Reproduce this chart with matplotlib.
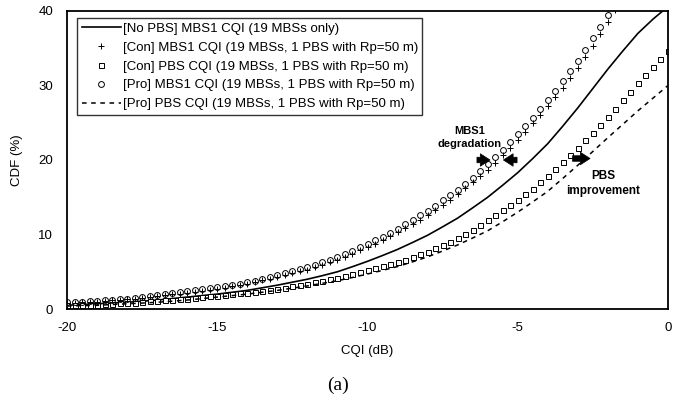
import numpy as np
import matplotlib
matplotlib.use('Agg')
import matplotlib.pyplot as plt

plt.rcParams['font.family'] = ['Liberation Sans', 'DejaVu Sans']
plt.rcParams['axes.unicode_minus'] = False

# CQI grids (dB)
cqi_fine = np.arange(-20, 0.001, 0.25)   # marker series
cqi_line = np.arange(-20, 0.001, 0.5)    # line series

# [No PBS] MBS1 CQI (19 MBSs only)  -- CDF (%)
nopbs_mbs1 = [0.5, 0.6, 0.7, 0.8, 0.9, 1.05, 1.2, 1.4, 1.6, 1.8, 2.0, 2.25, 2.5, 2.85,
              3.2, 3.6, 4.0, 4.48, 5.0, 5.68, 6.4, 7.18, 8.0, 8.93, 9.9, 11.03, 12.2,
              13.58, 15.0, 16.62, 18.3, 20.2, 22.2, 24.55, 27.0, 29.6, 32.2, 34.65,
              37.0, 38.9, 40.6]

# [Con] MBS1 CQI (19 MBSs, 1 PBS with Rp=50 m)
con_mbs1 = [0.80, 0.85, 0.90, 0.95, 1.00, 1.07, 1.15, 1.22, 1.30, 1.40, 1.50, 1.60,
            1.70, 1.82, 1.95, 2.07, 2.20, 2.32, 2.45, 2.57, 2.70, 2.87, 3.04, 3.22,
            3.40, 3.62, 3.85, 4.07, 4.30, 4.54, 4.79, 5.04, 5.30, 5.61, 5.93, 6.26,
            6.60, 7.01, 7.43, 7.86, 8.30, 8.78, 9.28, 9.78, 10.30, 10.86, 11.43, 12.01,
            12.60, 13.27, 13.96, 14.67, 15.40, 16.19, 17.00, 17.84, 18.70, 19.66,
            20.64, 21.66, 22.70, 23.79, 24.90, 26.04, 27.20, 28.45, 29.73, 31.05,
            32.40, 33.84, 35.31, 36.88, 38.50, 40.10]

# [Con] PBS CQI (19 MBSs, 1 PBS with Rp=50 m)
con_pbs = [0.50, 0.52, 0.55, 0.57, 0.60, 0.65, 0.70, 0.75, 0.80, 0.87, 0.95, 1.02,
           1.10, 1.17, 1.25, 1.32, 1.40, 1.50, 1.60, 1.70, 1.80, 1.90, 2.00, 2.10,
           2.20, 2.32, 2.45, 2.57, 2.70, 2.87, 3.04, 3.22, 3.40, 3.59, 3.79, 3.99,
           4.20, 4.44, 4.69, 4.94, 5.20, 5.46, 5.73, 6.01, 6.30, 6.63, 6.97, 7.33,
           7.70, 8.13, 8.57, 9.03, 9.50, 10.07, 10.66, 11.27, 11.90, 12.56, 13.23,
           13.91, 14.60, 15.38, 16.17, 16.98, 17.80, 18.73, 19.67, 20.63, 21.60,
           22.63, 23.67, 24.73, 25.80, 26.91, 28.03, 29.16, 30.30, 31.36, 32.43,
           33.51, 34.60]

# [Pro] MBS1 CQI (19 MBSs, 1 PBS with Rp=50 m)
pro_mbs1 = [0.90, 0.95, 1.00, 1.05, 1.10, 1.17, 1.24, 1.32, 1.40, 1.52, 1.64, 1.77,
            1.90, 2.02, 2.15, 2.27, 2.40, 2.52, 2.65, 2.77, 2.90, 3.07, 3.24, 3.42,
            3.60, 3.82, 4.04, 4.27, 4.50, 4.77, 5.04, 5.32, 5.60, 5.94, 6.28, 6.64,
            7.00, 7.41, 7.83, 8.26, 8.70, 9.21, 9.73, 10.26, 10.80, 11.39, 11.98,
            12.59, 13.20, 13.88, 14.58, 15.28, 16.00, 16.82, 17.65, 18.51, 19.40,
            20.38, 21.38, 22.42, 23.50, 24.60, 25.70, 26.84, 28.00, 29.28, 30.59,
            31.93, 33.30, 34.80, 36.33, 37.89, 39.50, 41.20]

# [Pro] PBS CQI (19 MBSs, 1 PBS with Rp=50 m)
pro_pbs = [0.4, 0.45, 0.5, 0.6, 0.7, 0.8, 0.9, 1.05, 1.2, 1.4, 1.6, 1.8, 2.0, 2.25,
           2.5, 2.8, 3.1, 3.45, 3.8, 4.23, 4.7, 5.18, 5.7, 6.33, 7.0, 7.78, 8.6,
           9.53, 10.5, 11.72, 13.0, 14.38, 15.8, 17.53, 19.3, 21.15, 23.0, 24.8,
           26.6, 28.3, 30.0]

labels = ['[No PBS] MBS1 CQI (19 MBSs only)',
          '[Con] MBS1 CQI (19 MBSs, 1 PBS with Rp=50 m)',
          '[Con] PBS CQI (19 MBSs, 1 PBS with Rp=50 m)',
          '[Pro] MBS1 CQI (19 MBSs, 1 PBS with Rp=50 m)',
          '[Pro] PBS CQI (19 MBSs, 1 PBS with Rp=50 m)']

fig = plt.figure(figsize=(6.75, 3.98), dpi=100)
ax = fig.add_axes([0.0993, 0.2236, 0.8903, 0.7488])

ax.plot(cqi_line, nopbs_mbs1, '-', color='black', lw=1.2, label=labels[0])
ax.plot(cqi_fine[:len(con_mbs1)], con_mbs1, '+', color='black', ms=4.5, mew=0.7,
        label=labels[1])
ax.plot(cqi_fine, con_pbs, 's', color='black', mfc='white', ms=3.6, mew=0.7,
        label=labels[2])
ax.plot(cqi_fine[:len(pro_mbs1)], pro_mbs1, 'o', color='black', mfc='none', ms=4.2,
        mew=0.7, label=labels[3])
ax.plot(cqi_line, pro_pbs, '--', color='black', lw=1.1, dashes=(3, 3), label=labels[4])

ax.set_xlim(-20, 0)
ax.set_ylim(0, 40)
ax.set_xticks([-20, -15, -10, -5, 0])
ax.set_yticks([0, 10, 20, 30, 40])
ax.tick_params(length=0, labelsize=9.5)
ax.tick_params(axis='y', pad=10)
ax.tick_params(axis='x', pad=9)
for s in ax.spines.values():
    s.set_linewidth(1.3)
ax.set_xlabel('CQI (dB)', fontsize=9.5, labelpad=8)
ax.set_ylabel('CDF (%)', fontsize=9.5, labelpad=11)

leg = ax.legend(loc='upper left', bbox_to_anchor=(0.0166, 0.976), borderaxespad=0,
                fontsize=9.5, frameon=True, fancybox=False, edgecolor='black',
                handlelength=3.0, handletextpad=0.1, labelspacing=0.5,
                borderpad=0.35, markerscale=1.0)
leg.get_frame().set_linewidth(1.0)

# annotations
arrow = dict(arrowstyle='simple,head_width=0.9,head_length=0.7,tail_width=0.4',
             color='black', lw=0.5)
ax.annotate('', xy=(-5.83, 20), xytext=(-6.45, 20), arrowprops=arrow)
ax.annotate('', xy=(-5.57, 20), xytext=(-4.93, 20), arrowprops=arrow)
ax.annotate('', xy=(-2.5, 20.2), xytext=(-3.27, 20.2), arrowprops=arrow)
ax.text(-6.6, 23.0, 'MBS1\ndegradation', ha='center', va='center', fontsize=8,
        fontweight='bold', linespacing=1.4)
ax.text(-2.15, 16.8, 'PBS\nimprovement', ha='center', va='center', fontsize=8.5,
        fontweight='bold', linespacing=1.35)

fig.text(0.5, 0.033, '(a)', ha='center', va='center', fontsize=14,
         family=['Liberation Serif', 'DejaVu Serif'])

fig.savefig('out.png', dpi=100)
